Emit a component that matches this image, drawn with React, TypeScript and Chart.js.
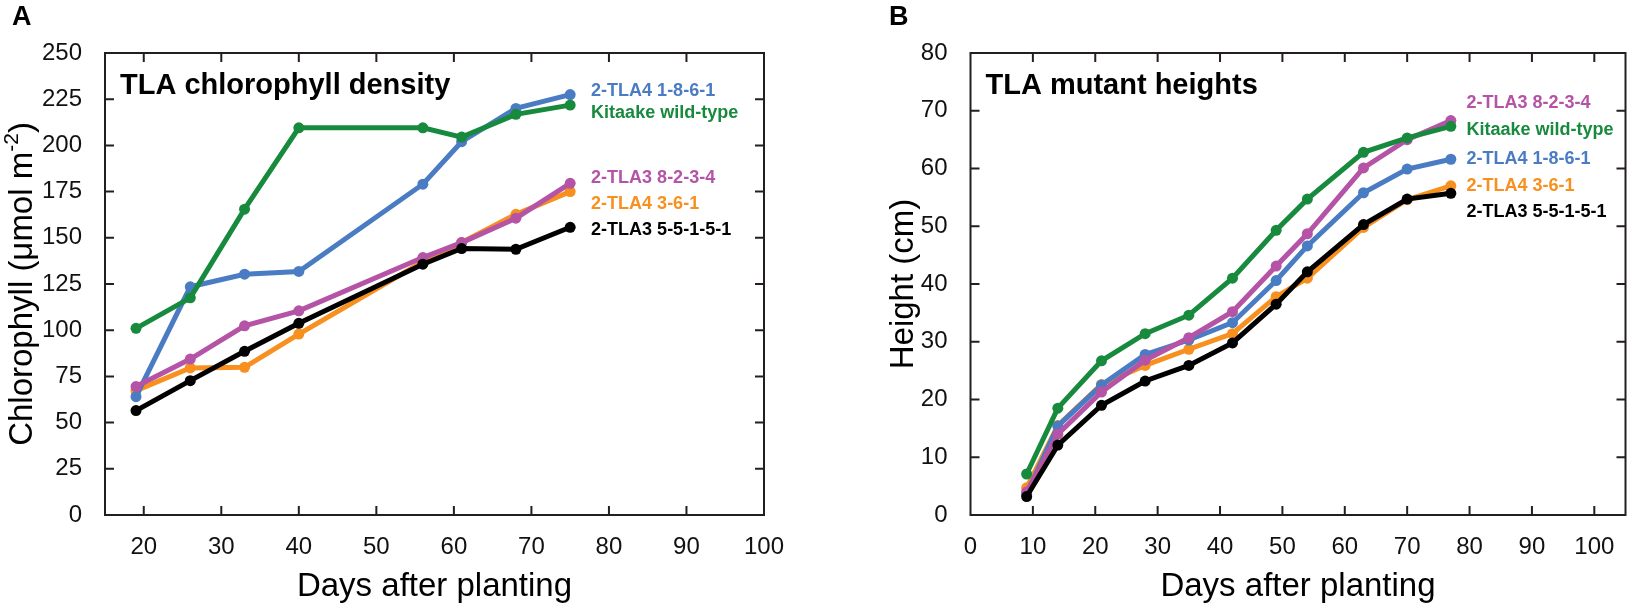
import React, { useEffect, useRef } from "react";
import { Chart, registerables } from "chart.js";

Chart.register(...registerables);

const FONT = "'Liberation Sans', Arial, Helvetica, sans-serif";

// ---------- Panel A: chlorophyll density ----------
const chlDays = [19, 26, 33, 40, 56, 61, 68, 75];
const chlKitaake = [101, 117.5, 165.5, 209.5, 209.5, 204.5, 216.8, 221.8];
const chlTla4_1861 = [64, 123.5, 130.3, 131.8, 179, 202, 220, 227.5];
const chlTla3_8234 = [69.5, 84.4, 102.4, 110.5, 139.3, 147.4, 160.6, 179.5];
const chlTla4_361 = [67.3, 79.6, 79.9, 97.9, 137, 147.5, 162.7, 175];
const chlTla3_55151 = [56.5, 72.7, 88.6, 103.7, 135.7, 144.2, 143.8, 155.7];
const chlXTicks = [20, 30, 40, 50, 60, 70, 80, 90, 100];
const chlYTicks = [0, 25, 50, 75, 100, 125, 150, 175, 200, 225, 250];

// ---------- Panel B: heights ----------
const htDays = [9, 14, 21, 28, 35, 42, 49, 54, 63, 70, 77];
const htKitaake = [7.1, 18.5, 26.7, 31.4, 34.6, 41, 49.3, 54.7, 62.8, 65.3, 67.3];
const htTla3_8234 = [4, 14, 21.3, 26.8, 30.7, 35.2, 43.1, 48.7, 60.1, 65, 68.3];
const htTla4_1861 = [3.7, 15.4, 22.5, 27.8, 30.3, 33.3, 40.6, 46.6, 55.8, 59.9, 61.6];
const htTla4_361 = [4.7, 15.5, 22.6, 25.9, 28.7, 31.4, 37.8, 41, 49.8, 54.6, 57];
const htTla3_55151 = [3.2, 12.1, 19, 23.2, 25.9, 29.8, 36.5, 42.1, 50.3, 54.7, 55.7];
const htXTicks = [0, 10, 20, 30, 40, 50, 60, 70, 80, 90, 100];
const htYTicks = [0, 10, 20, 30, 40, 50, 60, 70, 80];

// series names
const NAME_KIT = "Kitaake wild-type";
const NAME_1861 = "2-TLA4 1-8-6-1";
const NAME_8234 = "2-TLA3 8-2-3-4";
const NAME_361 = "2-TLA4 3-6-1";
const NAME_55151 = "2-TLA3 5-5-1-5-1";

const C_BLUE = "#4a7cc3";
const C_GREEN = "#178a3e";
const C_MAGENTA = "#b553a6";
const C_ORANGE = "#f7901e";
const C_BLACK = "#000000";

// annotation label anchors (data units)
const chlNoteX = 77.7;
const chlNoteNames = [NAME_1861, NAME_KIT, NAME_8234, NAME_361, NAME_55151];
const chlNoteColors = [C_BLUE, C_GREEN, C_MAGENTA, C_ORANGE, C_BLACK];
const chlNoteY = [229.3, 217.6, 182.2, 168.1, 154.3];

const htNoteX = 79.5;
const htNoteNames = [NAME_8234, NAME_KIT, NAME_1861, NAME_361, NAME_55151];
const htNoteColors = [C_MAGENTA, C_GREEN, C_BLUE, C_ORANGE, C_BLACK];
const htNoteY = [71.3, 66.7, 61.6, 57.0, 52.5];

type Series = { label: string; values: number[]; color: string };
type TitlePart = { t: string; sup?: boolean };

type PanelProps = {
  left: number;
  width: number;
  letter: string;
  letterX: number;
  title: string;
  days: number[];
  series: Series[];
  xMin: number;
  xMax: number;
  yMin: number;
  yMax: number;
  xTicks: number[];
  yTicks: number[];
  yAxisWidth: number;
  padRight: number;
  yTitle: TitlePart[];
  yTitleBaselineX: number;
  noteX: number;
  noteNames: string[];
  noteColors: string[];
  noteY: number[];
};

const HEIGHT = 605;

function Panel(p: PanelProps) {
  const ref = useRef<HTMLCanvasElement | null>(null);

  useEffect(() => {
    if (!ref.current) return;

    const deco = {
      id: "deco",
      afterDraw(chart: any) {
        const { ctx, chartArea: a, scales } = chart;
        const xs = scales.x;
        const ys = scales.y;
        ctx.save();
        // frame
        ctx.strokeStyle = "#231f20";
        ctx.lineWidth = 2;
        ctx.strokeRect(a.left, a.top, a.right - a.left, a.bottom - a.top);
        // inward tick marks
        const TL = 9;
        ctx.beginPath();
        for (const v of p.xTicks) {
          const px = xs.getPixelForValue(v);
          if (px <= a.left + 1 || px >= a.right - 1) continue;
          ctx.moveTo(px, a.bottom);
          ctx.lineTo(px, a.bottom - TL);
          ctx.moveTo(px, a.top);
          ctx.lineTo(px, a.top + TL);
        }
        for (const v of p.yTicks) {
          const py = ys.getPixelForValue(v);
          if (py <= a.top + 1 || py >= a.bottom - 1) continue;
          ctx.moveTo(a.left, py);
          ctx.lineTo(a.left + TL, py);
          ctx.moveTo(a.right, py);
          ctx.lineTo(a.right - TL, py);
        }
        ctx.stroke();

        // panel letter
        ctx.fillStyle = "#000";
        ctx.textAlign = "left";
        ctx.textBaseline = "alphabetic";
        ctx.font = `bold 27px ${FONT}`;
        ctx.fillText(p.letter, p.letterX, 25);

        // in-plot title
        ctx.font = `bold 29px ${FONT}`;
        ctx.fillText(p.title, a.left + 15, a.top + 41);

        // series labels
        ctx.font = `bold 18px ${FONT}`;
        ctx.textBaseline = "middle";
        const nx = xs.getPixelForValue(p.noteX);
        p.noteNames.forEach((name, i) => {
          ctx.fillStyle = p.noteColors[i];
          ctx.fillText(name, nx, ys.getPixelForValue(p.noteY[i]));
        });

        // x title
        ctx.fillStyle = "#000";
        ctx.textAlign = "center";
        ctx.textBaseline = "alphabetic";
        ctx.font = `33px ${FONT}`;
        ctx.fillText("Days after planting", (a.left + a.right) / 2, 596);

        // y title (rotated, with optional superscript)
        const mainFont = `33px ${FONT}`;
        const supFont = `21px ${FONT}`;
        let total = 0;
        const widths = p.yTitle.map((part) => {
          ctx.font = part.sup ? supFont : mainFont;
          const w = ctx.measureText(part.t).width;
          total += w;
          return w;
        });
        ctx.translate(p.yTitleBaselineX, (a.top + a.bottom) / 2);
        ctx.rotate(-Math.PI / 2);
        ctx.textAlign = "left";
        let x = -total / 2;
        p.yTitle.forEach((part, i) => {
          ctx.font = part.sup ? supFont : mainFont;
          ctx.fillText(part.t, x, part.sup ? -14 : 0);
          x += widths[i];
        });
        ctx.restore();
      },
    };

    const chart = new Chart(ref.current, {
      type: "line",
      data: {
        labels: p.days,
        datasets: p.series.map((s) => ({
          label: s.label,
          data: s.values.map((v, i) => ({ x: p.days[i], y: v })),
          borderColor: s.color,
          backgroundColor: s.color,
          pointBackgroundColor: s.color,
          pointBorderColor: s.color,
          pointBorderWidth: 0,
          pointRadius: 5.5,
          borderWidth: 5,
          tension: 0,
          fill: false,
        })),
      },
      options: {
        animation: false,
        responsive: false,
        events: [],
        layout: { padding: { left: 0, top: 53, right: p.padRight, bottom: 0 } },
        plugins: { legend: { display: false }, tooltip: { enabled: false }, title: { display: false } },
        scales: {
          x: {
            type: "linear",
            min: p.xMin,
            max: p.xMax,
            afterBuildTicks: (s: any) => {
              s.ticks = p.xTicks.map((v) => ({ value: v }));
            },
            afterFit: (s: any) => {
              s.height = HEIGHT - 515;
            },
            grid: { display: false },
            border: { display: false },
            ticks: {
              autoSkip: false,
              maxRotation: 0,
              minRotation: 0,
              padding: 10,
              color: "#111",
              font: { family: FONT, size: 24 },
            },
          },
          y: {
            type: "linear",
            min: p.yMin,
            max: p.yMax,
            afterBuildTicks: (s: any) => {
              s.ticks = p.yTicks.map((v) => ({ value: v }));
            },
            afterFit: (s: any) => {
              s.width = p.yAxisWidth;
            },
            grid: { display: false },
            border: { display: false },
            ticks: {
              padding: 15,
              color: "#111",
              font: { family: FONT, size: 24 },
            },
          },
        },
      },
      plugins: [deco],
    } as any);

    return () => chart.destroy();
  }, []);

  return (
    <canvas
      ref={ref}
      width={p.width}
      height={HEIGHT}
      style={{ position: "absolute", left: p.left, top: 0, width: p.width, height: HEIGHT }}
    />
  );
}

export default function App() {
  // draw order: first dataset on top
  const chlSeries: Series[] = [
    { label: NAME_KIT, values: chlKitaake, color: C_GREEN },
    { label: NAME_55151, values: chlTla3_55151, color: C_BLACK },
    { label: NAME_8234, values: chlTla3_8234, color: C_MAGENTA },
    { label: NAME_1861, values: chlTla4_1861, color: C_BLUE },
    { label: NAME_361, values: chlTla4_361, color: C_ORANGE },
  ];
  const htSeries: Series[] = [
    { label: NAME_KIT, values: htKitaake, color: C_GREEN },
    { label: NAME_55151, values: htTla3_55151, color: C_BLACK },
    { label: NAME_8234, values: htTla3_8234, color: C_MAGENTA },
    { label: NAME_1861, values: htTla4_1861, color: C_BLUE },
    { label: NAME_361, values: htTla4_361, color: C_ORANGE },
  ];

  return (
    <div
      style={{
        position: "absolute",
        left: 0,
        top: 0,
        width: 1631,
        height: HEIGHT,
        background: "#fff",
        overflow: "hidden",
      }}
    >
      <Panel
        left={0}
        width={815}
        letter="A"
        letterX={12}
        title="TLA chlorophyll density"
        days={chlDays}
        series={chlSeries}
        xMin={15}
        xMax={100}
        yMin={0}
        yMax={250}
        xTicks={chlXTicks}
        yTicks={chlYTicks}
        yAxisWidth={105}
        padRight={51}
        yTitle={[{ t: "Chlorophyll (μmol m" }, { t: "-2", sup: true }, { t: ")" }]}
        yTitleBaselineX={31.5}
        noteX={chlNoteX}
        noteNames={chlNoteNames}
        noteColors={chlNoteColors}
        noteY={chlNoteY}
      />
      <Panel
        left={815}
        width={816}
        letter="B"
        letterX={74}
        title="TLA mutant heights"
        days={htDays}
        series={htSeries}
        xMin={0}
        xMax={105}
        yMin={0}
        yMax={80}
        xTicks={htXTicks}
        yTicks={htYTicks}
        yAxisWidth={155.5}
        padRight={2.5}
        yTitle={[{ t: "Height (cm)" }]}
        yTitleBaselineX={98}
        noteX={htNoteX}
        noteNames={htNoteNames}
        noteColors={htNoteColors}
        noteY={htNoteY}
      />
    </div>
  );
}
